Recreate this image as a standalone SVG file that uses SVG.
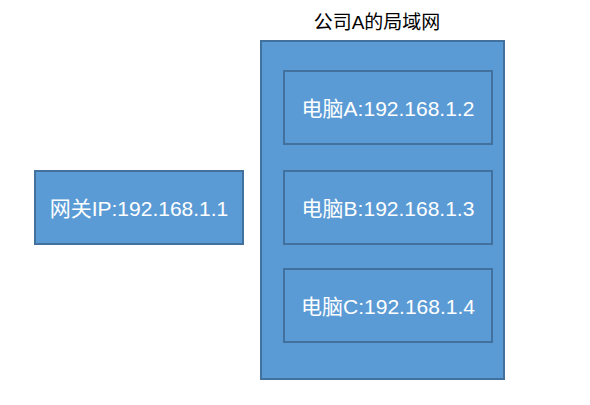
<svg xmlns="http://www.w3.org/2000/svg" width="590" height="405" viewBox="0 0 590 405">
<style>
.box{fill:#5B9BD5;stroke:#41719C;stroke-width:2}
.lbl{font-family:"Liberation Sans","Noto Sans CJK SC",sans-serif;font-size:21px;fill:#ffffff;text-anchor:middle;dominant-baseline:central}
.title{font-family:"Liberation Sans","Noto Sans CJK SC",sans-serif;font-size:19px;fill:#000000;text-anchor:middle;dominant-baseline:central}
</style>
<rect width="590" height="405" fill="#ffffff"/>
<g id="lan">
<rect class="box" x="261" y="41" width="243" height="338"/>
<text class="title" x="377" y="22">公司A的局域网</text>
</g>
<g id="pcA">
<rect class="box" x="284" y="71" width="208" height="73"/>
<text class="lbl" x="388" y="108">电脑A:192.168.1.2</text>
</g>
<g id="pcB">
<rect class="box" x="284" y="171" width="208" height="73"/>
<text class="lbl" x="388" y="208">电脑B:192.168.1.3</text>
</g>
<g id="pcC">
<rect class="box" x="284" y="269" width="208" height="73"/>
<text class="lbl" x="388" y="306">电脑C:192.168.1.4</text>
</g>
<g id="gateway">
<rect class="box" x="35" y="171" width="208" height="73"/>
<text class="lbl" x="139" y="208">网关IP:192.168.1.1</text>
</g>
<g id="connectors"></g>
</svg>
